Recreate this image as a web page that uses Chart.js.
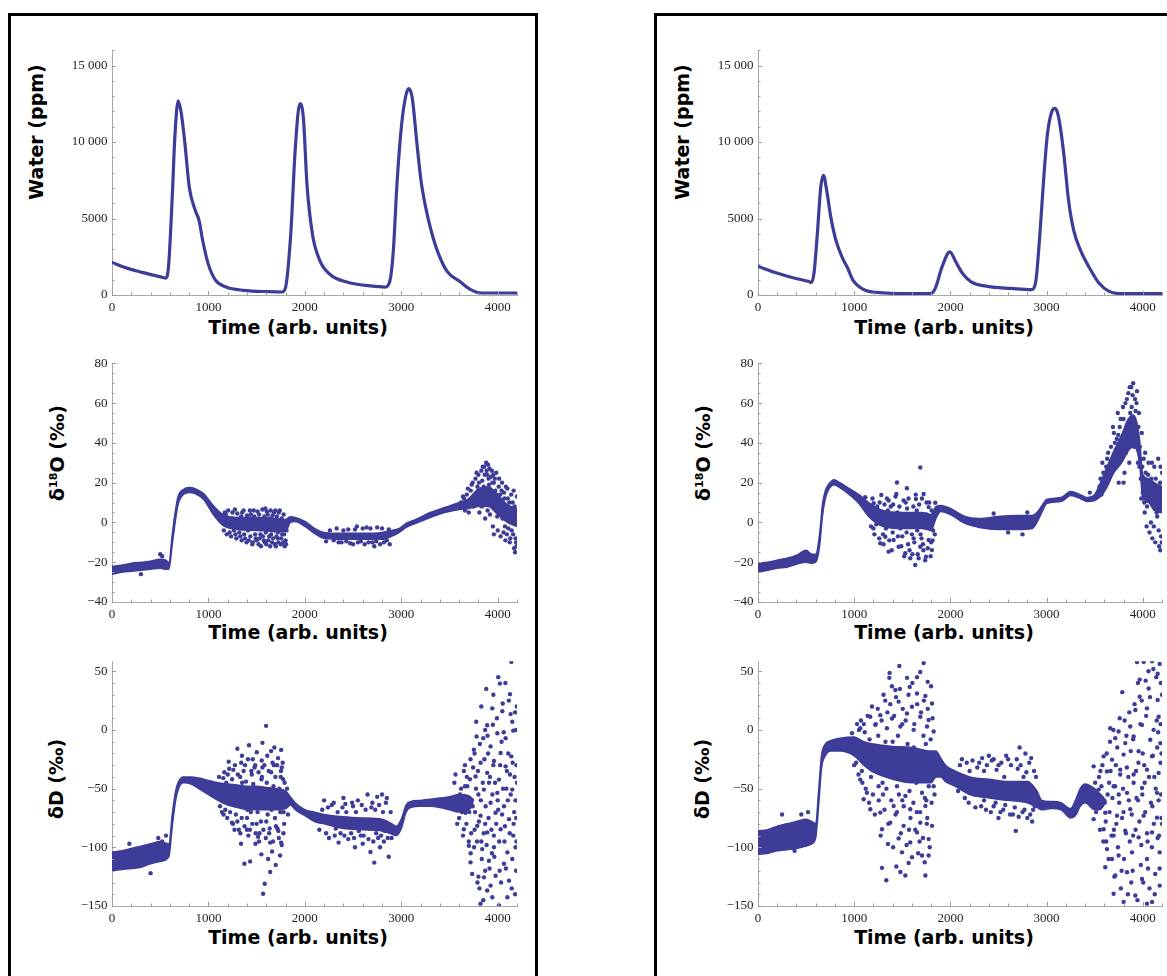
<!DOCTYPE html>
<html>
<head>
<meta charset="utf-8">
<script src="https://cdn.jsdelivr.net/npm/chart.js@4.4.1/dist/chart.umd.min.js"></script>
<style>
  html, body { margin: 0; padding: 0; background: #fff; width: 1167px; height: 976px; overflow: hidden; position: relative; }
  .frame { position: absolute; border: 3px solid #000; box-sizing: border-box; }
  canvas { position: absolute; }
  .xt, .yt { position: absolute; font-family: "DejaVu Sans", sans-serif; font-weight: bold; font-size: 19px; line-height: 1; white-space: nowrap; color: #000; transform: translate(-50%, -50%); }
  .yt { transform: translate(-50%, -50%) rotate(-90deg); }
  .yt sup { font-size: 11px; line-height: 0; vertical-align: 7px; }
</style>
</head>
<body>
<div class="frame" style="left:8px;top:13px;width:530px;height:1000px"></div>
<div class="frame" style="left:654px;top:13px;width:600px;height:1000px"></div>

<div class="yt" style="left:36px;top:132px">Water (ppm)</div>
<div class="xt" style="left:298px;top:327px">Time (arb. units)</div>
<div class="yt" style="left:57px;top:453px">δ<sup>18</sup>O (‰)</div>
<div class="xt" style="left:298px;top:632px">Time (arb. units)</div>
<div class="yt" style="left:56px;top:779px">δD (‰)</div>
<div class="xt" style="left:298px;top:937px">Time (arb. units)</div>

<div class="yt" style="left:682px;top:132px">Water (ppm)</div>
<div class="xt" style="left:944px;top:327px">Time (arb. units)</div>
<div class="yt" style="left:703px;top:453px">δ<sup>18</sup>O (‰)</div>
<div class="xt" style="left:944px;top:632px">Time (arb. units)</div>
<div class="yt" style="left:702px;top:779px">δD (‰)</div>
<div class="xt" style="left:944px;top:937px">Time (arb. units)</div>

<script>
// tick values / labels
const xTickVals = [0, 1000, 2000, 3000, 4000];
const xTickLabels = ["0", "1000", "2000", "3000", "4000"];
const waterTickVals = [0, 5000, 10000, 15000];
const waterTickLabels = ["0", "5000", "10 000", "15 000"];
const o18TickVals = [-40, -20, 0, 20, 40, 60, 80];
const o18TickLabels = ["\u221240", "\u221220", "0", "20", "40", "60", "80"];
const dDTickVals = [-150, -100, -50, 0, 50];
const dDTickLabels = ["\u2212150", "\u2212100", "\u221250", "0", "50"];

// water concentration, left run
const leftWaterT = [0,138,325,530,556,586,623,653,686,716,754,802,858,903,940,996,1071,1183,1369,1630,1761,1798,1854,1899,1948,1985,2022,2078,2153,2265,2451,2675,2832,2880,2918,2955,3003,3048,3078,3115,3160,3205,3253,3309,3384,3477,3608,3720,3832,4200];
const leftWaterV = [2130,1790,1465,1140,1100,1850,6160,10470,12690,11980,10040,7030,5630,4870,3580,2070,990,520,300,215,195,450,4010,9400,12520,11550,7240,4010,2280,1320,820,600,520,880,2930,7240,11120,13060,13490,12840,10040,7460,5730,4220,2720,1530,880,350,130,130];

// water concentration, right run
const rightWaterT = [0,179,354,529,554,582,617,652,680,715,757,810,880,933,985,1090,1231,1581,1792,1844,1914,1995,2055,2125,2212,2388,2633,2843,2885,2931,2966,3008,3054,3089,3124,3176,3229,3282,3352,3439,3544,3650,3790,4200];
const rightWaterV = [1870,1465,1140,880,820,1420,4010,7030,7820,6810,5090,3580,2390,1750,990,390,170,90,90,450,1850,2820,2180,1420,880,560,430,350,780,4010,7240,10470,11980,12200,11660,9400,6160,4220,2930,1850,780,240,90,90];

// d18O left: dense core (low / high edge) + scattered points
const leftO18T  = [0,100,200,300,400,500,560,590,625,655,685,740,800,860,950,1050,1150,1300,1500,1700,1800,1850,1900,2000,2100,2200,2400,2600,2800,2900,2980,3050,3150,3300,3450,3600,3700,3800,3900,4000,4100,4200];
const leftO18Lo = [-26,-25,-24.5,-24,-23.5,-23,-23.5,-23.5,-11,0,9,14,15,14.5,11.5,4,-1.5,-3.5,-4,-4.5,-4.5,0,0.5,-2,-5.5,-8,-8.5,-8.5,-8.5,-7,-5,-2.5,-0.5,2.5,5,6.5,7,8,8,4,0,-2];
const leftO18Hi = [-22,-21.5,-20.5,-20,-19.5,-18.5,-19,-20,-6,5,13,16.5,17.5,17,14.5,8.5,4,2.5,2.5,2,1.5,2.8,2.5,0.5,-3,-5,-5.5,-5.5,-5,-4,-3,-0.5,1.5,5,7.5,10,12,17,18,14,9,7];
const leftO18Dots = [[300,-26],[500,-16],[520,-17],
  [1180,4],[1220,-5],[1250,5],[1280,-6],[1300,4.5],[1330,-7],[1350,5],[1380,-8],[1400,3.5],[1420,-9],[1440,4],[1460,-10],[1470,6],[1490,-8],[1510,5.5],[1520,-11],[1540,-6],[1560,6.5],[1575,-9],[1590,7],[1600,-11],[1615,4],[1630,-7],[1645,6],[1660,-10],[1680,5],[1700,-12],[1710,3],[1720,-8],[1740,6],[1750,-11],[1765,-6],[1780,4],[1790,-12],[1800,-9],[1360,-3],[1420,2],[1480,-2],[1540,1],[1600,-4],[1660,-1],[1720,-5],[1770,-3],
  [2350,-10],[2500,-11],[2700,-10],[2780,-11],[2750,-2.5],[2600,-3],[2450,-3.5],
  [3650,12],[3680,14],[3700,5],[3720,16],[3740,20],[3750,8],[3770,22],[3790,18],[3800,24],[3810,5],[3830,26],[3840,21],[3860,28],[3870,2],[3880,30],[3890,24],[3900,29],[3910,19],[3920,4],[3930,23],[3940,26],[3950,-2],[3960,20],[3970,22],[3980,8],[3990,14],[4000,-4],[4010,18],[4020,10],[4030,-7],[4040,16],[4050,2],[4060,-5],[4070,12],[4080,-9],[4090,6],[4100,17],[4110,-3],[4120,10],[4130,-8],[4140,14],[4150,1],[4160,-6],[4170,-13],[4175,8],[4180,-15],[4190,3],[4195,-12],[4200,13],[3960,-6],[3850,10],[3920,12]];
const leftO18Extra = [[1160,-4],[1170,5],[1190,-6],[1205,6],[1215,-2],[1235,-7],[1245,2],[1265,-4],[1275,6.5],[1290,-8],[1310,0],[1320,-5],[1340,3],[1345,-9],[1365,6],[1370,-6],[1390,1],[1395,-10],[1410,-4],[1430,6],[1435,-7],[1450,-1],[1455,-11],[1475,3],[1485,-6],[1500,-9],[1505,1],[1525,4],[1530,-8],[1545,-12],[1555,-2],[1565,-7],[1580,3],[1585,-10],[1595,-5],[1605,5.5],[1620,-9],[1625,-3],[1635,2],[1640,-12],[1650,-6],[1665,3.5],[1670,-8],[1685,-4],[1690,-11],[1695,6],[1705,-7],[1715,1],[1725,-10],[1730,5],[1745,-4],[1755,-8],[1760,2],[1775,-10],[1785,-6],[1795,0],[1805,-11],[1810,-4],
  [2220,-9.5],[2260,-4],[2300,-9],[2330,-3],[2380,-10],[2400,-4],[2430,-9.5],[2470,-10.5],[2520,-3.5],[2550,-10],[2580,-9.5],[2620,-11],[2640,-2.5],[2660,-10],[2680,-3],[2720,-12],[2740,-9.5],[2800,-3],[2820,-10],[2850,-9],[2870,-3.5],[2880,-11],[2540,-2],
  [3620,10],[3640,13],[3660,6],[3690,17],[3710,9],[3730,19],[3760,12],[3780,25],[3795,10],[3805,20],[3820,15],[3835,8],[3845,28],[3855,18],[3865,24],[3875,12],[3885,26],[3895,6],[3905,22],[3915,27],[3925,15],[3935,9],[3945,20],[3955,24],[3965,12],[3975,16],[3985,25],[3995,3],[4005,10],[4015,22],[4025,14],[4035,4],[4045,20],[4055,8],[4065,15],[4075,-2],[4085,18],[4095,-6],[4105,12],[4115,4],[4125,-10],[4135,6],[4145,-4],[4155,10],[4165,16],[4185,-8],[4198,0],[4190,-10],[4170,5]];

// dD left
const leftDT  = [0,100,200,300,400,500,590,625,660,690,740,820,900,1000,1100,1200,1300,1400,1500,1600,1700,1800,1850,1900,2000,2100,2200,2400,2600,2800,2880,2950,3000,3050,3100,3200,3300,3400,3500,3600,3700,3750];
const leftDLo = [-120,-119,-118,-117,-114,-112,-108,-82,-60,-50,-45,-46,-50,-55,-60,-64,-66,-68,-68,-68,-68,-67,-64,-68,-73,-78,-80,-84,-85,-86,-88,-90,-84,-70,-66,-65,-65,-66,-68,-70,-68,-64];
const leftDHi = [-104,-103,-101,-99,-97,-95,-97,-72,-52,-44,-40,-40,-41,-43,-45,-46,-47,-48,-48,-49,-50,-52,-57,-62,-68,-70,-72,-74,-75,-76,-79,-82,-76,-64,-61,-60,-59,-58,-57,-55,-56,-60];
const leftDDots = [[180,-97],[400,-122],[480,-92],[520,-95],[560,-90],
  [1598,3.5],[1421,-13],[1560,-11],[1300,-16],[1684,-15],[1754,-17],[1650,-18],[1348,-22],[1501,-19],[1210,-27],[1761,-32],[1258,-34],[1553,-26],[1722,-24],[1478,-32],[1154,-41],
  [1338,-97],[1373,-114],[1432,-112],[1549,-106],[1567,-139.5],[1584,-131],[1640,-121],[1660,-103.5],[1698,-115],[1743,-107],[1619,-110],[1488,-97],[1515,-91],[1640,-96],[1754,-96],[1778,-88],[1331,-88],[1400,-85],[1244,-79],[1157,-72],[1715,-84],
  [1250,-60],[1350,-45],[1400,-75],[1450,-38],[1500,-80],[1550,-42],[1600,-78],[1650,-36],[1700,-82],[1750,-40],[1780,-70],[1300,-78],[1200,-38],[1480,-55],[1620,-60],[1720,-58],[1380,-30],[1560,-32],[1680,-30],[1770,-28],[1430,-85],[1530,-88],[1630,-88],[1730,-92],[1270,-85],[1330,-40],[1460,-25],[1610,-22],[1790,-45],
  [2200,-60],[2250,-92],[2300,-62],[2350,-96],[2400,-58],[2450,-93],[2500,-65],[2520,-100],[2550,-60],[2600,-97],[2650,-55],[2680,-104],[2700,-62],[2720,-113],[2750,-57],[2780,-100],[2800,-55],[2820,-95],[2850,-58],[2870,-108],[2420,-63],[2580,-90],[2660,-93],[2760,-92],[2310,-90],[2480,-88],[2900,-92],
  [4141,58],[4023,39.5],[3881,35],[4127,30.5],[3944,18.4],[4052,22.6],[4048,16],[4134,13.5],[3777,7],[3891,4],[3950,4.5],[4151,7],[3996,-2.8],[3781,-5.6],[3850,-7],[4082,-7],[4161,-0.6],[3753,-16.8],[3926,-14],[4030,-19.6],[4141,-22.5],[3718,-25],[3822,-28],[3961,-26.5],[4082,-31],[3562,-38],[3649,-35],[3770,-39.6],[3891,-36.6],[4013,-42.3],[4127,-38],[3684,-48],[3857,-50.8],[3996,-53.6],[4151,-50.8],[3718,-59],[3926,-62],[4065,-65],[3666,-70.5],[3822,-73],[3978,-70.5],[4117,-76],[3649,-84.6],[3788,-81.7],[3891,-87.3],[4030,-84.6],[4161,-90],[3701,-98.7],[3839,-101.5],[3961,-100],[4100,-104.3],[3718,-112.8],[3909,-111.4],[4065,-114],[4151,-110],[3857,-125.6],[3978,-124.2],[4117,-128.4],[3735,-122.7],[3891,-136.8],[3944,-142.5],[3822,-148],[4013,-149.5],[4100,-142.5],[3926,-132.6],
  [4190,-120],[4195,-95],[4185,-60],[4195,-30],[4190,0],[4180,15],[4200,-45],
  [3550,-45],[3580,-80],[3620,-50],[3640,-90],[3600,-75],[3680,-40],[3700,-95],[3660,-30],[3720,-105],[3760,-20],[3790,-130],[3800,-125],[3810,-135],[3850,-145],[3870,-120],
  [3740,-65],[3800,-55],[3870,-80],[3910,-45],[3960,-90],[4000,-60],[4040,-10],[4090,-50],[4110,-20],[4170,-70],[3830,-95],[3940,-105],[4070,-95],[3760,-85],[3900,-20],[4020,-120]];
const leftDExtra = [[1110,-40],[1120,-65],[1130,-48],[1140,-70],[1150,-55],[1165,-36],[1175,-68],[1185,-45],[1195,-75],[1205,-50],[1215,-33],[1225,-70],[1235,-58],[1245,-42],[1255,-80],[1265,-48],[1275,-30],[1285,-72],[1295,-56],[1305,-38],[1315,-85],[1325,-62],[1340,-28],[1345,-75],[1355,-52],[1365,-35],[1375,-82],[1385,-60],[1390,-44],[1405,-68],[1410,-25],[1415,-90],[1425,-52],[1440,-70],[1445,-35],[1455,-80],[1465,-46],[1470,-62],[1485,-30],[1490,-88],[1505,-50],[1510,-70],[1520,-36],[1525,-95],[1535,-58],[1545,-78],[1555,-40],[1565,-65],[1570,-85],[1580,-30],[1590,-55],[1595,-92],[1605,-45],[1615,-72],[1625,-35],[1635,-84],[1645,-52],[1655,-68],[1665,-28],[1670,-95],[1675,-48],[1690,-75],[1695,-40],[1705,-62],[1712,-30],[1725,-86],[1735,-50],[1745,-70],[1752,-35],[1760,-98],[1768,-60],[1775,-42],[1785,-80],[1795,-55],[1805,-65],[1815,-50],[1825,-72],
  [2150,-85],[2180,-68],[2220,-88],[2240,-66],[2270,-80],[2280,-64],[2320,-84],[2340,-70],[2370,-88],[2390,-66],[2410,-90],[2430,-70],[2460,-80],[2490,-62],[2510,-92],[2530,-70],[2560,-86],[2590,-64],[2610,-90],[2630,-68],[2670,-84],[2690,-66],[2710,-95],[2730,-68],[2740,-88],[2770,-64],[2790,-90],[2810,-70],[2830,-86],[2840,-62],[2860,-92],[2890,-70],
  [3610,-55],[3630,-70],[3645,-62],[3660,-48],[3675,-80],[3690,-58],[3705,-70],[3712,-42],[3725,-88],[3732,-60],[3745,-32],[3755,-100],[3765,-70],[3775,-50],[3785,-95],[3795,-35],[3805,-78],[3815,-12],[3825,-60],[3835,-110],[3845,-45],[3855,-88],[3862,-25],[3875,-65],[3885,-98],[3895,-5],[3905,-75],[3915,-118],[3920,-40],[3935,-85],[3945,-55],[3955,-30],[3965,-108],[3972,-45],[3985,-80],[3992,10],[4005,-68],[4015,-95],[4025,-30],[4035,-130],[4045,-72],[4055,-50],[4062,-2],[4075,-82],[4085,-118],[4095,-35],[4105,-60],[4115,25],[4125,-88],[4135,-55],[4145,-135],[4155,-28],[4165,-80],[4175,-40],[4185,-100],[4192,-75],[4198,20],[4180,-140],[4005,45],[4080,40],[3955,30],[3830,20],[3870,0]];

// d18O right
const rightO18T  = [0,100,200,300,400,500,560,600,640,670,700,740,790,850,950,1050,1150,1300,1500,1700,1800,1850,1900,2000,2150,2300,2500,2700,2850,2900,2960,3000,3150,3250,3350,3420,3500,3560,3620,3700,3780,3850,3900,3940,3970,4000,4060,4120,4200];
const rightO18Lo = [-25,-24,-23,-22.5,-21,-20,-20.5,-20,-12,3,12,17,19,17.5,14,9.5,3,-2,-3,-3,-4,2,5.5,4,-0.5,-2.5,-3.5,-3.5,-3,0,6,9.5,10.5,13.5,12,10.5,11,13,17,25,30,36,38,36,28,12,10,6,5];
const rightO18Hi = [-20.5,-20,-19,-18,-16.5,-14,-16,-16,-6,9,16,19.5,21.5,20,17,14,10,6,5,5,4,8,8.5,7,3,2,3,3.5,3.5,5,9,11.5,12.5,15.5,14,12.5,14,20,27,36,44,52,54,50,40,24,22,20,18];
const rightO18Dots = [[1687,27.6],[1445,20.1],[1548,17.2],[1115,12.7],[1282,13.8],[1438,14.3],[1722,14.3],[1642,11.8],[1202,9.7],[1358,11],[1514,11],[1843,9.9],[1774,7.7],[1635,-21.4],[1583,-18],[1746,-17.2],[1358,-14.7],[1271,-10.5],[1462,-12.2],[1531,-15.5],[1808,-13.9],[1687,-12.2],[1410,-8.8],[1774,-8.8],[1323,-7.2],[1618,-8],[1200,-3],[1250,4],[1300,-6],[1350,6],[1400,-5],[1450,5],[1500,-7],[1550,7],[1600,-6],[1650,6],[1700,-8],[1750,4],[1800,-10],[1560,-11],[1660,-16],[1720,-14],[1480,-3],[1380,8],[1240,8],[1780,10],[1820,-4],
  [2600,-5],[2750,-6],[2450,4.5],[2800,5],
  [3580,30],[3600,18],[3640,35],[3660,24],[3700,45],[3720,30],[3730,42],[3750,20],[3760,48],[3780,36],[3800,52],[3810,25],[3820,60],[3840,42],[3850,65],[3860,30],[3870,55],[3880,68],[3890,48],[3900,70],[3910,38],[3920,62],[3930,45],[3940,66],[3950,30],[3960,55],[3970,38],[3980,22],[3990,45],[4000,15],[4010,32],[4020,5],[4030,25],[4040,-2],[4050,18],[4060,30],[4070,-5],[4080,12],[4090,22],[4100,-8],[4110,8],[4120,28],[4130,-10],[4140,15],[4150,3],[4160,32],[4170,-12],[4180,20],[4190,-7],[4195,10],[4200,25],[3690,48],[3740,55],[3800,20],[3560,22],[3620,28],[3450,15],[4182,-14]];
const rightO18Extra = [[1160,6],[1175,-2],[1190,12],[1210,-6],[1220,7],[1230,-1],[1260,-8],[1265,10],[1290,2],[1305,-11],[1315,9],[1330,-3],[1340,12],[1365,-9],[1375,3],[1390,-14],[1405,9],[1420,-2],[1430,13],[1455,-7],[1470,8],[1490,-12],[1505,3],[1520,-17],[1535,10],[1545,-5],[1565,12],[1575,-14],[1590,2],[1605,-16],[1615,8],[1625,-10],[1640,14],[1655,-4],[1670,-18],[1675,9],[1690,-6],[1705,12],[1715,-11],[1730,2],[1738,-19],[1752,10],[1765,-13],[1785,-1],[1795,-17],[1805,6],[1815,-9],[1830,2],[1838,-6],
  [3550,18],[3570,14],[3590,25],[3610,20],[3630,32],[3650,28],[3670,38],[3680,26],[3710,40],[3725,34],[3745,44],[3755,30],[3770,52],[3790,40],[3795,58],[3815,46],[3825,35],[3835,62],[3845,50],[3855,40],[3865,68],[3875,44],[3885,58],[3895,64],[3905,50],[3915,42],[3925,56],[3935,60],[3945,40],[3955,48],[3965,28],[3975,32],[3985,12],[3995,28],[4005,20],[4015,10],[4025,35],[4035,15],[4045,8],[4055,24],[4065,14],[4075,20],[4085,0],[4095,30],[4105,16],[4115,-2],[4125,12],[4135,22],[4145,5],[4155,18],[4165,-4],[4175,10],[4185,28],[4198,-10],[4192,15]];

// dD right
const rightDT  = [0,100,200,300,400,500,560,600,630,660,700,760,850,1000,1100,1200,1400,1600,1800,1850,1900,1950,2050,2200,2400,2600,2800,2900,2950,3050,3150,3250,3300,3350,3400,3500,3550,3600];
const rightDLo = [-106,-105,-103,-102,-101,-99,-97,-92,-65,-33,-22,-18,-18,-22,-30,-36,-42,-45,-45,-40,-40,-44,-48,-55,-58,-60,-62,-66,-68,-67,-68,-75,-73,-65,-62,-68,-68,-64];
const rightDHi = [-86,-85,-82,-80,-78,-76,-78,-80,-52,-22,-12,-9,-7,-6,-10,-12,-14,-15,-18,-18,-24,-30,-35,-40,-42,-44,-44,-52,-60,-61,-62,-67,-60,-50,-46,-50,-54,-58];
const rightDDots = [[250,-72],[450,-72],[520,-70],[100,-104],[380,-103],
  [1722,57],[1469,54.5],[1368,48.6],[1687,49.4],[1365,44.4],[1549,44.4],[1653,45],[1764,41],[1393,37.3],[1577,36.7],[1799,37.3],[1428,34],[1653,31],[1740,29],[1809,22.6],[1323,25],[1462,24.1],[1601,19.8],[1167,11.3],[1271,12.6],[1393,9.7],[1549,14],[1687,11.3],[1774,8.5],[1063,1.5],[1219,4.3],[1340,1.5],[1480,2.9],[1618,0.1],[1757,2.9],[1826,-1.3],[977,-2.7],
  [1334,-128],[1289,-117.5],[1438,-116.4],[1480,-121],[1532,-124],[1740,-124],[1566,-113.3],[1733,-112.7],[1497,-104.3],[1601,-108.5],[1705,-107],[1774,-107],[1351,-97.2],[1462,-92.4],[1583,-95.8],[1653,-87.3],[1774,-93],[1289,-84.6],[1375,-79],[1514,-81.7],[1687,-79],[1809,-81.7],[1167,-67.6],[1271,-70.4],[1410,-64.8],[1583,-67.6],[1740,-64.8],[1132,-53.5],[1063,-42.3],[1254,-48],[1445,-48],[1532,-56.3],[1705,-53.5],[1826,-48],[1098,-59],
  [1200,-30],[1300,-55],[1350,-20],[1450,-35],[1500,-60],[1550,-25],[1600,-40],[1650,-70],[1700,-30],[1750,-60],[1800,-40],[1250,-5],[1400,-10],[1500,5],[1620,-15],[1720,-5],[1780,-25],[1150,-25],[1430,-72],[1570,-85],[1680,-95],[1760,-75],[1050,0],[1100,5],[1000,-30],[1080,-35],
  [2100,-30],[2200,-35],[2250,-55],[2300,-28],[2350,-60],[2400,-22],[2450,-65],[2500,-30],[2550,-68],[2600,-25],[2650,-72],[2680,-86],[2700,-33],[2720,-15],[2750,-70],[2780,-20],[2800,-75],[2820,-28],[2850,-78],[2870,-35],[2880,-65],[2500,-75],[2600,-58],[2350,-35],[2760,-40],[2900,-60],[2450,-25],[2560,-40],
  [3940,57.9],[4009,58],[4096,58.6],[4176,56.3],[3968,42.9],[4155,47.9],[3787,32.2],[4061,35.3],[3968,28.3],[4155,25.5],[3923,17],[4044,18.4],[4165,11.3],[3662,1.5],[3749,-1.3],[3870,2.9],[3992,4.3],[4113,0.1],[3714,-7],[3818,-11.2],[3905,-5.6],[4078,-8.4],[4183,-11.2],[3593,-22.5],[3680,-25.3],[3801,-21],[3957,-18.2],[4096,-22.5],[3489,-31],[3628,-35.3],[3766,-33.8],[3905,-38],[4044,-33.8],[4165,-36.6],[3541,-50.8],[3697,-48],[3836,-53.6],[3992,-49.4],[4148,-53.6],[3489,-76],[3610,-70.5],[3732,-73],[3870,-67.6],[4009,-73],[4148,-74.7],[3593,-84.6],[3697,-90],[3818,-85.8],[3957,-91.5],[4096,-87.3],[3628,-101.5],[3749,-107],[3888,-104.3],[4044,-110],[4176,-104.3],[3610,-117],[3714,-124],[3836,-121.3],[3992,-127],[4130,-122.7],[3697,-139.5],[3801,-146.5],[3923,-141],[4044,-148],[4176,-132.6],[4096,-146.5],
  [3600,-60],[3650,-45],[3700,-85],[3750,-55],[3800,-70],[3850,-40],[3900,-90],[3950,-60],[4000,-20],[4050,-95],[4100,-65],[4150,-15],[4200,-80],[3620,-95],[3680,-110],[3720,-30],[3780,-120],[3830,-5],[3880,-130],[3930,-35],[3980,-115],[4020,-45],[4070,-135],[4120,-40],[4170,-90],[4190,-55],[4195,-20],[4185,5],[4200,30],[4140,45],[4060,50],[3990,25],[3860,15],[3760,10],[3660,-10],[3560,-35],[3520,-60]];
const rightDExtra = [[1010,-12],[1020,-28],[1030,5],[1045,-38],[1055,-18],[1070,8],[1085,-45],[1095,-20],[1110,-2],[1120,-50],[1130,-30],[1140,12],[1155,-62],[1160,-8],[1175,-40],[1185,20],[1195,-55],[1205,-15],[1215,-72],[1225,5],[1235,-35],[1245,18],[1255,-60],[1265,-22],[1275,-90],[1285,8],[1295,-45],[1305,30],[1315,-68],[1325,-10],[1335,-50],[1345,15],[1355,-80],[1365,-30],[1375,22],[1385,-60],[1395,-18],[1405,-100],[1415,12],[1425,-40],[1435,28],[1445,-70],[1455,-5],[1465,-55],[1475,35],[1485,-88],[1495,-20],[1505,18],[1515,-65],[1525,-35],[1535,8],[1545,-98],[1555,-12],[1565,30],[1575,-52],[1585,-75],[1595,-28],[1605,40],[1615,-62],[1625,5],[1635,-85],[1645,-45],[1655,22],[1665,-105],[1675,-18],[1685,-70],[1695,15],[1705,-38],[1715,-92],[1725,25],[1735,-58],[1745,-12],[1755,-80],[1765,18],[1775,-48],[1785,-100],[1795,-8],[1805,-62],[1815,10],[1825,-30],[1835,-55],[1845,-20],
  [2080,-52],[2120,-25],[2150,-58],[2170,-28],[2190,-62],[2230,-26],[2260,-66],[2280,-32],[2320,-65],[2330,-24],[2370,-68],[2380,-30],[2420,-70],[2430,-26],[2470,-62],[2480,-34],[2520,-70],[2530,-28],[2570,-64],[2580,-22],[2620,-72],[2630,-30],[2670,-66],[2690,-25],[2710,-74],[2730,-30],[2770,-68],[2790,-36],[2830,-72],[2840,-24],[2860,-68],[2890,-40],
  [3505,-45],[3515,-70],[3530,-55],[3545,-40],[3555,-85],[3570,-48],[3580,-30],[3590,-95],[3605,-62],[3615,-78],[3625,-20],[3635,-55],[3645,-110],[3655,-70],[3665,-35],[3675,-90],[3685,-58],[3695,0],[3705,-125],[3712,-48],[3725,-80],[3735,-15],[3742,-100],[3755,-62],[3765,-38],[3772,-135],[3785,-75],[3795,-50],[3805,-110],[3812,8],[3825,-88],[3835,-32],[3845,-140],[3855,-60],[3865,-95],[3875,-18],[3885,-72],[3895,-120],[3905,-45],[3915,22],[3925,-85],[3935,-58],[3945,-145],[3955,-28],[3965,-78],[3975,5],[3985,-98],[3995,-55],[4005,-130],[4015,-30],[4025,-70],[4035,12],[4045,-88],[4055,-118],[4065,-40],[4075,28],[4085,-62],[4095,-100],[4105,-22],[4115,-80],[4125,-140],[4135,-50],[4145,8],[4155,-92],[4165,-60],[4175,-118],[4185,-28],[4195,-75],[4188,40],[4110,52],[4030,42],[3950,40],[3900,-8],[4160,-2]];

const BLUE = "#3d3d99";

function xy(ts, vs) {
  return ts.map((t, i) => ({ x: t, y: vs[i] }));
}

function waterSet(ts, vs) {
  return {
    type: "line", data: xy(ts, vs), showLine: true,
    borderColor: BLUE, borderWidth: 3.2, pointRadius: 0,
    cubicInterpolationMode: "monotone", borderJoinStyle: "round", borderCapStyle: "round", fill: false
  };
}

function bandSets(ts, lo, hi) {
  const base = { type: "line", showLine: true, borderColor: BLUE, backgroundColor: BLUE,
    borderWidth: 1.5, pointRadius: 0, cubicInterpolationMode: "monotone" };
  return [
    Object.assign({}, base, { data: xy(ts, lo), fill: false }),
    Object.assign({}, base, { data: xy(ts, hi), fill: "-1" })
  ];
}

function dotSet(pairs) {
  return {
    type: "scatter", data: pairs.map(p => ({ x: p[0], y: p[1] })),
    pointRadius: 2.2, pointHoverRadius: 0, pointBorderWidth: 0, pointBackgroundColor: BLUE
  };
}

// Mathematica-like inward ticks (major + minor) on both axes
const axisTicks = {
  id: "axisTicks",
  afterDraw(chart, args, opts) {
    const { ctx, chartArea: a, scales: { x, y } } = chart;
    ctx.save();
    ctx.strokeStyle = "#9a9a9a";
    ctx.lineWidth = 1;
    ctx.beginPath();
    for (let v = 0; v <= x.max; v += opts.xMinor) {
      const px = Math.round(x.getPixelForValue(v)) + 0.5;
      const len = v % opts.xMajor === 0 ? 4 : 2.5;
      ctx.moveTo(px, a.bottom);
      ctx.lineTo(px, a.bottom - len);
    }
    for (let v = Math.ceil(y.min / opts.yMinor) * opts.yMinor; v <= y.max; v += opts.yMinor) {
      const py = Math.round(y.getPixelForValue(v)) + 0.5;
      const len = v % opts.yMajor === 0 ? 4 : 2.5;
      ctx.moveTo(a.left, py);
      ctx.lineTo(a.left + len, py);
    }
    ctx.stroke();
    ctx.restore();
  }
};

const tickFont = { family: "Liberation Serif", size: 13 };

function makeChart(area, yAxis, datasets) {
  const cv = document.createElement("canvas");
  const w = area.right - area.left + 130;
  const h = area.bottom - area.top + 40;
  cv.width = w;
  cv.height = h;
  cv.style.left = (area.left - 100) + "px";
  cv.style.top = (area.top - 10) + "px";
  cv.style.width = w + "px";
  cv.style.height = h + "px";
  document.body.appendChild(cv);

  return new Chart(cv.getContext("2d"), {
    type: "scatter",
    data: { datasets: datasets },
    options: {
      responsive: false,
      animation: false,
      events: [],
      layout: { padding: { left: 0, top: 10, right: 30, bottom: 0 } },
      plugins: {
        legend: { display: false },
        tooltip: { enabled: false },
        axisTicks: { xMinor: 200, xMajor: 1000, yMinor: yAxis.minor, yMajor: yAxis.major }
      },
      scales: {
        x: {
          type: "linear", min: 0, max: 4200,
          afterBuildTicks: s => { s.ticks = xTickVals.map(v => ({ value: v })); },
          afterFit: s => { s.height = 30; },
          grid: { display: false, drawTicks: false },
          border: { display: true, color: "#a8a8a8", width: 1 },
          ticks: { font: tickFont, color: "#222", padding: 5, autoSkip: false, maxRotation: 0,
            callback: (v, i) => xTickLabels[i] }
        },
        y: {
          type: "linear", min: yAxis.min, max: yAxis.max,
          afterBuildTicks: s => { s.ticks = yAxis.vals.map(v => ({ value: v })); },
          afterFit: s => { s.width = 100; },
          grid: { display: false, drawTicks: false },
          border: { display: true, color: "#a8a8a8", width: 1 },
          ticks: { font: tickFont, color: "#222", padding: 4.5, autoSkip: false,
            callback: (v, i) => yAxis.labels[i] }
        }
      }
    },
    plugins: [axisTicks]
  });
}

const waterAxis = { min: 0, max: 16000, vals: waterTickVals, labels: waterTickLabels, minor: 1000, major: 5000 };
const o18Axis = { min: -40, max: 80, vals: o18TickVals, labels: o18TickLabels, minor: 5, major: 20 };
const dDAxis = { min: -150, max: 58.5, vals: dDTickVals, labels: dDTickLabels, minor: 10, major: 50 };

// left column
makeChart({ left: 112, right: 517, top: 48, bottom: 295 }, waterAxis, [waterSet(leftWaterT, leftWaterV)]);
makeChart({ left: 112, right: 517, top: 361, bottom: 602 }, o18Axis,
  bandSets(leftO18T, leftO18Lo, leftO18Hi).concat([dotSet(leftO18Dots.concat(leftO18Extra))]));
makeChart({ left: 112, right: 517, top: 659, bottom: 906 }, dDAxis,
  bandSets(leftDT, leftDLo, leftDHi).concat([dotSet(leftDDots.concat(leftDExtra))]));

// right column
makeChart({ left: 758, right: 1162, top: 48, bottom: 295 }, waterAxis, [waterSet(rightWaterT, rightWaterV)]);
makeChart({ left: 758, right: 1162, top: 361, bottom: 602 }, o18Axis,
  bandSets(rightO18T, rightO18Lo, rightO18Hi).concat([dotSet(rightO18Dots.concat(rightO18Extra))]));
makeChart({ left: 758, right: 1162, top: 659, bottom: 906 }, dDAxis,
  bandSets(rightDT, rightDLo, rightDHi).concat([dotSet(rightDDots.concat(rightDExtra))]));
</script>
</body>
</html>
